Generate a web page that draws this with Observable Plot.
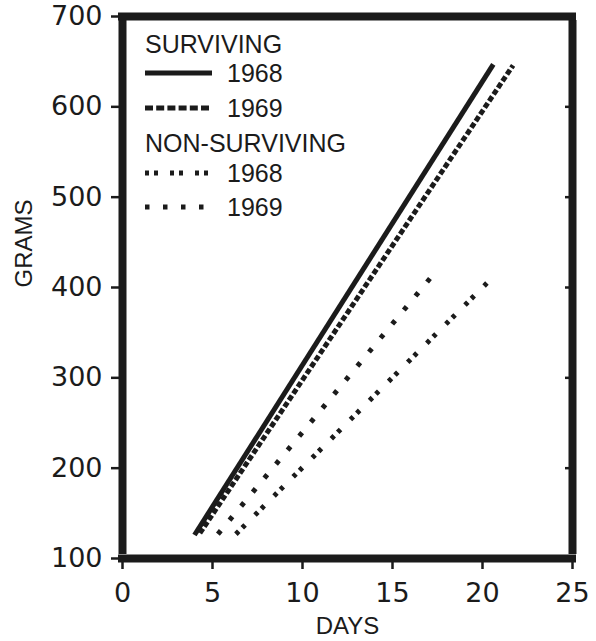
<!DOCTYPE html>
<html><head><meta charset="utf-8">
<script src="https://cdn.jsdelivr.net/npm/d3@7"></script>
<script src="https://cdn.jsdelivr.net/npm/@observablehq/plot@0.6"></script>
<style>
body{margin:0;background:#fff}
#chart svg{display:block}
#chart g[aria-label="x-axis tick label"] text,
#chart g[aria-label="y-axis tick label"] text{font-family:'DejaVu Sans',sans-serif;font-size:27px}
#chart g[aria-label="x-axis tick"],
#chart g[aria-label="y-axis tick"]{stroke-width:2.5px}
#chart g[aria-label="rule"]{stroke-width:8px}
</style>
</head><body><div id="chart"></div>
<script>
// ---- data ----
const seriesNames = ["Surviving 1968", "Surviving 1969", "Non-surviving 1968", "Non-surviving 1969"];
const startDay   = [4.0, 4.3, 6.3, 5.3];
const startGrams = [126, 128, 127, 127];
const endDay     = [20.6, 21.7, 20.3, 17.5];
const endGrams   = [647, 646, 406, 420];
const xTicks = [0, 5, 10, 15, 20, 25];
const yTicks = [100, 200, 300, 400, 500, 600, 700];
const xDomain = [0, 25];
const yDomain = [100, 700];
const legendGroups = ["SURVIVING", "NON-SURVIVING"];
const legendYears = ["1968", "1969", "1968", "1969"];

const ink = "#1b1b1b";
const dashes = [null, "5.5,2.5", "4,5,4,14", "4.5,13.7"];
const legendDashes = [null, "8,3.2", "4,5,4,12", "4.5,13.5"];

const rows = seriesNames.flatMap((s, i) => [
  {series: s, day: startDay[i], grams: startGrams[i]},
  {series: s, day: endDay[i], grams: endGrams[i]}
]);

const lineMarks = seriesNames.map((s, i) => Plot.line(rows.filter(d => d.series === s), {
  x: "day", y: "grams", stroke: ink, strokeWidth: 5,
  strokeDasharray: dashes[i] ?? undefined, strokeLinecap: "butt"
}));

const font = "'Liberation Sans', Arial, sans-serif";

const chart = Plot.plot({
  width: 596, height: 641,
  marginLeft: 122, marginRight: 24, marginTop: 16, marginBottom: 83,
  style: {fontFamily: font, fontSize: "25px", color: ink, background: "#fff"},
  x: {domain: xDomain},
  y: {domain: yDomain},
  marks: [
    Plot.axisX({ticks: xTicks, tickSize: 11, tickPadding: 13, label: null, strokeWidth: 2.5}),
    Plot.axisY({ticks: yTicks, tickSize: 11, tickPadding: 9, label: null, strokeWidth: 2.5}),
    Plot.axisY({anchor: "right", ticks: yTicks.slice(1, -1), tickSize: -8, tickFormat: () => "", label: null, strokeWidth: 2.5}),
    Plot.ruleX(xDomain, {stroke: ink, strokeWidth: 8, y1: yDomain[0], y2: yDomain[1], insetTop: -4, insetBottom: -4}),
    Plot.ruleY(yDomain, {stroke: ink, strokeWidth: 8, x1: xDomain[0], x2: xDomain[1], insetLeft: -4, insetRight: -4}),
    ...lineMarks,
    Plot.text(["GRAMS"], {text: d => d, frameAnchor: "left", dx: -98, rotate: -90, fontSize: 24}),
    Plot.text(["DAYS"], {text: d => d, frameAnchor: "bottom", dy: 75, fontSize: 24})
  ]
});

document.getElementById("chart").append(chart);

// ---- legend (layout only) ----
const svg = d3.select(chart);
const lg = svg.append("g").attr("font-family", font).attr("font-size", 25).attr("fill", ink).attr("text-anchor", "start");
const rowBase = [53, 82, 117, 152, 182, 216];
const x0 = 145, x1 = 212, xt = 227;
lg.append("text").attr("x", x0).attr("y", rowBase[0]).text(legendGroups[0]);
lg.append("text").attr("x", x0).attr("y", rowBase[3]).text(legendGroups[1]);
[1, 2, 4, 5].forEach((r, i) => {
  const ly = rowBase[r] - 9;
  const line = lg.append("line").attr("x1", x0).attr("x2", x1).attr("y1", ly).attr("y2", ly)
    .attr("stroke", ink).attr("stroke-width", 5);
  if (legendDashes[i]) line.attr("stroke-dasharray", legendDashes[i]);
  lg.append("text").attr("x", xt).attr("y", rowBase[r]).text(legendYears[i]);
});
</script>
</body></html>
